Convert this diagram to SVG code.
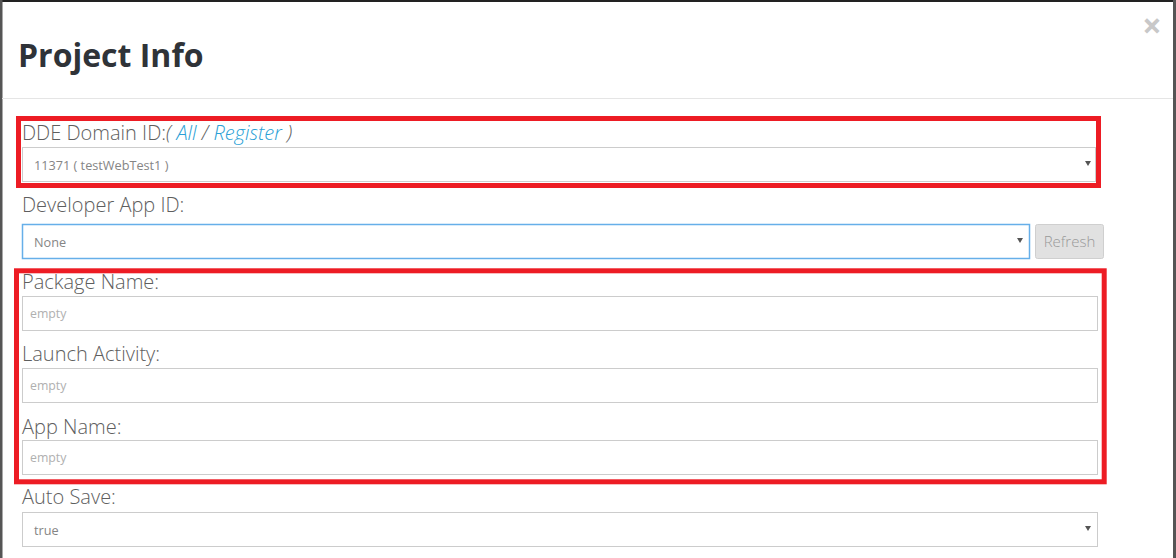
<svg xmlns="http://www.w3.org/2000/svg" width="1176" height="558" viewBox="0 0 1176 558">
<style>
.lbl{font-family:"Open Sans","Liberation Sans",sans-serif;font-weight:300;font-size:20px;fill:#5e5e5e}
.val{font-family:"Open Sans","Liberation Sans",sans-serif;font-size:12.7px;fill:#858585}
.ph{font-family:"Open Sans","Liberation Sans",sans-serif;font-size:12.3px;fill:#b0b0b0}
.box{fill:#fff;stroke:#ccc;stroke-width:1}
.red{fill:none;stroke:#ed1c24;stroke-width:5}
.arr{fill:#555}
</style>
<rect x="0" y="0" width="1176" height="558" fill="#fff"/>
<rect x="0" y="0" width="1176" height="2" fill="#222"/>
<rect x="0" y="0" width="2.5" height="558" fill="#555"/>
<rect x="1173" y="0" width="3" height="558" fill="#555"/>
<g id="header">
<text x="18" y="67" font-family="'Open Sans','Liberation Sans',sans-serif" font-weight="700" font-size="32" fill="#2f3338">Project Info</text>
<text x="1152" y="38" text-anchor="middle" font-family="'Open Sans','Liberation Sans',sans-serif" font-weight="700" font-size="34" fill="#c8c8c8">×</text>
<line x1="2" y1="98.5" x2="1173" y2="98.5" stroke="#e5e5e5" stroke-width="1"/>
</g>
<g id="dde-domain">
<text class="lbl" x="22" y="139.5">DDE Domain ID:<tspan font-style="italic">( </tspan><tspan font-style="italic" fill="#2a9fd6">All</tspan><tspan font-style="italic"> / </tspan><tspan font-style="italic" fill="#2a9fd6">Register</tspan><tspan font-style="italic"> )</tspan></text>
<rect class="box" x="22.5" y="147.5" width="1073" height="34"/>
<text class="val" x="34" y="170">11371 ( testWebTest1 )</text>
<polygon class="arr" points="1085,161 1091,161 1088,166"/>
</g>
<g id="developer-app">
<text class="lbl" x="22" y="211.5">Developer App ID:</text>
<rect x="22.5" y="224.5" width="1007" height="34" fill="#fff" stroke="#66afe9" stroke-width="1.5"/>
<text class="val" x="34" y="246.5">None</text>
<polygon class="arr" points="1017,238 1023,238 1020,243"/>
<rect x="1035.5" y="224.5" width="68" height="34" rx="2" fill="#e1e1e1" stroke="#cfcfcf" stroke-width="1"/>
<text x="1069.5" y="247" text-anchor="middle" font-family="'Open Sans','Liberation Sans',sans-serif" font-weight="300" font-size="15" fill="#999">Refresh</text>
</g>
<g id="package-name">
<text class="lbl" x="22" y="289">Package Name:</text>
<rect class="box" x="22.5" y="296.5" width="1075" height="34"/>
<text class="ph" x="30" y="318">empty</text>
</g>
<g id="launch-activity">
<text class="lbl" x="22" y="361">Launch Activity:</text>
<rect class="box" x="22.5" y="368.5" width="1075" height="34"/>
<text class="ph" x="30" y="390">empty</text>
</g>
<g id="app-name">
<text class="lbl" x="22" y="433.5">App Name:</text>
<rect class="box" x="22.5" y="440.5" width="1075" height="34"/>
<text class="ph" x="30" y="462">empty</text>
</g>
<g id="auto-save">
<text class="lbl" x="22" y="504">Auto Save:</text>
<rect class="box" x="22.5" y="512.5" width="1075" height="34"/>
<text class="val" x="34" y="534.5">true</text>
<polygon class="arr" points="1085,526 1091,526 1088,531"/>
</g>
<g id="highlights">
<rect class="red" x="18.5" y="118.5" width="1080" height="67"/>
<rect class="red" x="16.5" y="270.8" width="1087.7" height="211"/>
</g>
</svg>
